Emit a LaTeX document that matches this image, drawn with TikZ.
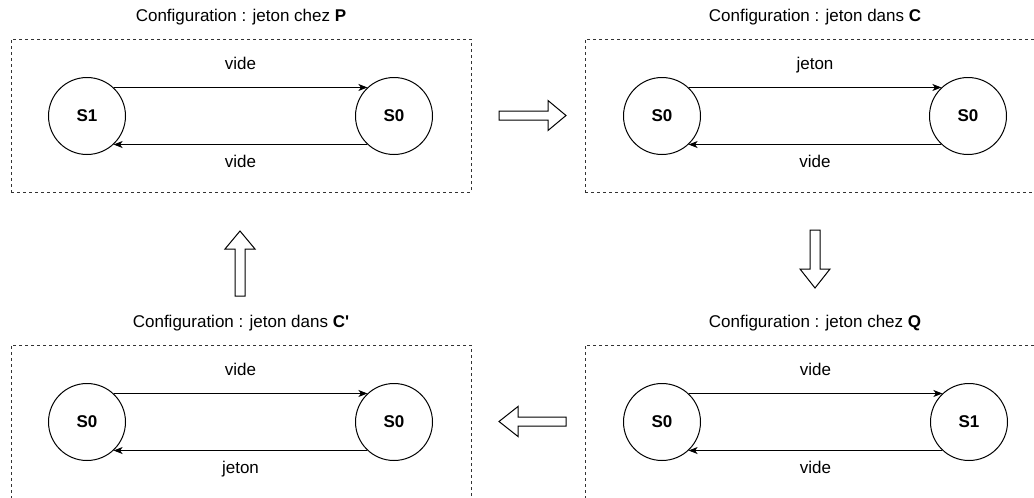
\documentclass[tikz,border=0pt]{standalone}
\usepackage{fontspec}
\setmainfont{Liberation Sans}[Ligatures=TeXOff]
\usetikzlibrary{arrows.meta,positioning}

\begin{document}
\begin{tikzpicture}[x=1pt,y=-1pt,
  every node/.style={font=\fontsize{17}{20}\selectfont},
  state/.style={draw,circle,line width=1pt,minimum size=77pt,inner sep=0pt,
    font=\fontsize{17}{20}\selectfont\bfseries},
  config/.style={draw=black!80,dash pattern=on 3pt off 3pt,line width=0.8pt,
    minimum width=460pt,minimum height=153pt,inner sep=0pt},
  title/.style={anchor=base},
  lbl/.style={text height=12.2pt,text depth=3.6pt,inner sep=0pt},
  trans/.style={-{Stealth[length=9pt,width=7pt,inset=2.5pt]},line width=1pt},
  bigarrow/.style={draw,line width=1pt,fill=white,line join=miter}]
  \useasboundingbox (0,0) rectangle (1034,498);
  \clip (0,0) rectangle (1034,498);

  % jeton chez P
  \node[config] (cp) at (241,115.5) {};
  \node[title] (tp) at ([yshift=17pt]cp.north) {Configuration : jeton chez \textbf{P}};
  \node[state] (p1) at (87,116) {S1};
  \node[state] (p0) at (394,116) {S0};
  \draw[trans] (p1.47) -- node[lbl,yshift=22pt] (lp1) {vide} (p0.133);
  \draw[trans] (p0.-133) -- node[lbl,yshift=-19pt] (lp2) {vide} (p1.-47);

  % jeton dans C
  \node[config] (cc) at (815,115.5) {};
  \node[title] (tc) at ([yshift=17pt]cc.north) {Configuration : jeton dans \textbf{C}};
  \node[state] (c1) at (662,116) {S0};
  \node[state] (c0) at (968,116) {S0};
  \draw[trans] (c1.47) -- node[lbl,yshift=22pt] (lc1) {jeton} (c0.133);
  \draw[trans] (c0.-133) -- node[lbl,yshift=-19pt] (lc2) {vide} (c1.-47);

  % jeton chez Q
  \node[config] (cq) at (815,421.5) {};
  \node[title] (tq) at ([yshift=17pt]cq.north) {Configuration : jeton chez \textbf{Q}};
  \node[state] (q1) at (662,422) {S0};
  \node[state] (q0) at (969,422) {S1};
  \draw[trans] (q1.47) -- node[lbl,yshift=22pt] (lq1) {vide} (q0.133);
  \draw[trans] (q0.-133) -- node[lbl,yshift=-19pt] (lq2) {vide} (q1.-47);

  % jeton dans C'
  \node[config] (cr) at (241,421.5) {};
  \node[title] (tr) at ([yshift=17pt]cr.north) {Configuration : jeton dans \textbf{C'}};
  \node[state] (r1) at (87,422) {S0};
  \node[state] (r0) at (394,422) {S0};
  \draw[trans] (r1.47) -- node[lbl,yshift=22pt] (lr1) {vide} (r0.133);
  \draw[trans] (r0.-133) -- node[lbl,yshift=-19pt] (lr2) {jeton} (r1.-47);

  % passages
  \draw[bigarrow] (499,111) -- (548,111) -- (548,100.5) -- (566,115.5)
    -- (548,130.5) -- (548,120) -- (499,120) -- cycle;
  \draw[bigarrow] (810,230) -- (820,230) -- (820,269) -- (830,269)
    -- (815,288) -- (800,269) -- (810,269) -- cycle;
  \draw[bigarrow] (566,417) -- (518,417) -- (518,406.5) -- (499,421.5)
    -- (518,436.5) -- (518,426) -- (566,426) -- cycle;
  \draw[bigarrow] (235,296) -- (235,249) -- (225,249) -- (240,231)
    -- (255,249) -- (245,249) -- (245,296) -- cycle;
\end{tikzpicture}
\end{document}
